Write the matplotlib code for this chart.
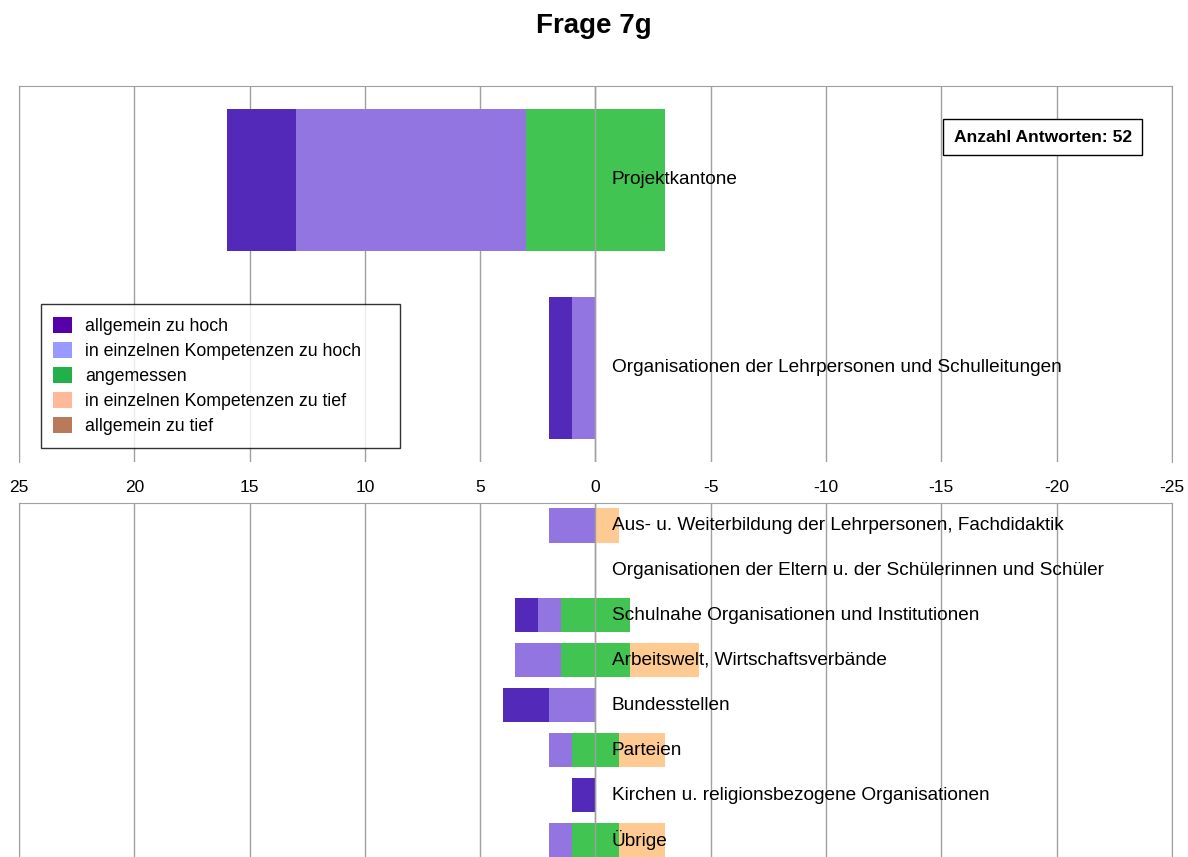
import matplotlib
matplotlib.use('Agg')
import matplotlib.pyplot as plt
from matplotlib.patches import Patch
import numpy as np

plt.rcParams['font.family'] = ['Liberation Sans', 'DejaVu Sans']
plt.rcParams['axes.unicode_minus'] = False

# Kategorien, oben die beiden Hauptgruppen, unten die übrigen
top_labels = ["Projektkantone",
              "Organisationen der Lehrpersonen und Schulleitungen"]
bottom_labels = ["Aus- u. Weiterbildung der Lehrpersonen, Fachdidaktik",
                 "Organisationen der Eltern u. der Schülerinnen und Schüler",
                 "Schulnahe Organisationen und Institutionen",
                 "Arbeitswelt, Wirtschaftsverbände",
                 "Bundesstellen",
                 "Parteien",
                 "Kirchen u. religionsbezogene Organisationen",
                 "Übrige"]

# Anzahl Antworten je Kategorie
top_allg_hoch = [3, 1]
top_einz_hoch = [10, 1]
top_angemessen = [6, 0]
top_einz_tief = [0, 0]
top_allg_tief = [0, 0]

bot_allg_hoch = [0, 0, 1, 0, 2, 0, 1, 0]
bot_einz_hoch = [2, 0, 1, 2, 2, 1, 0, 1]
bot_angemessen = [0, 0, 3, 3, 0, 2, 0, 2]
bot_einz_tief = [1, 0, 0, 3, 0, 2, 0, 2]
bot_allg_tief = [0, 0, 0, 0, 0, 0, 0, 0]

legend_names = ["allgemein zu hoch", "in einzelnen Kompetenzen zu hoch",
                "angemessen", "in einzelnen Kompetenzen zu tief",
                "allgemein zu tief"]
bar_colors = ["#5229B8", "#9275E0", "#42C452", "#FFCA91", "#B87A55"]
legend_colors = ["#5500AA", "#9999FF", "#22B04A", "#FFB998", "#B87A5A"]

total = 52
grid_c = "#A0A0A0"


def draw_panel(ax, labels, ah, eh, am, et, at):
    y = np.arange(len(labels))
    ah, eh, am, et, at = map(np.array, (ah, eh, am, et, at))
    half = am / 2.0
    h = 0.76
    kw = dict(height=h, edgecolor='none', zorder=2)
    ax.barh(y, am, left=-half, color=bar_colors[2], **kw)
    ax.barh(y, eh, left=half, color=bar_colors[1], **kw)
    ax.barh(y, ah, left=half + eh, color=bar_colors[0], **kw)
    ax.barh(y, -et, left=-half, color=bar_colors[3], **kw)
    ax.barh(y, -at, left=-half - et, color=bar_colors[4], **kw)
    for yi, lab in zip(y, labels):
        ax.text(-0.7, yi, lab, ha='left', va='center', fontsize=13.7, zorder=5)
    ax.set_xlim(25, -25)
    ax.set_xticks(np.arange(25, -26, -5))
    ax.grid(axis='x', color=grid_c, linewidth=1, zorder=1)
    ax.axvline(0, color=grid_c, linewidth=1, zorder=4)
    ax.set_yticks([])
    ax.tick_params(axis='x', length=0)
    for s in ax.spines.values():
        s.set_color(grid_c)


fig = plt.figure(figsize=(11.88, 8.57), dpi=100)

ax1 = fig.add_axes([0.016, 0.4609, 0.9705, 0.4388])
draw_panel(ax1, top_labels, top_allg_hoch, top_einz_hoch, top_angemessen,
           top_einz_tief, top_allg_tief)
ax1.set_ylim(1.5, -0.5)
ax1.spines['bottom'].set_visible(False)
ax1.tick_params(axis='x', labelsize=12.5, pad=13)

ax2 = fig.add_axes([0.016, 0.0, 0.9705, 0.4131])
draw_panel(ax2, bottom_labels, bot_allg_hoch, bot_einz_hoch, bot_angemessen,
           bot_einz_tief, bot_allg_tief)
ax2.set_ylim(7.38, -0.5)
ax2.spines['bottom'].set_visible(False)
ax2.tick_params(axis='x', labelbottom=False)

handles = [Patch(facecolor=c, edgecolor='none') for c in legend_colors]
leg = ax1.legend(handles, legend_names, loc='upper left',
                 bbox_to_anchor=(0.0191, 0.0, 0.311, 0.42), mode='expand',
                 fontsize=12.8, frameon=True, fancybox=False, borderpad=0.7,
                 handlelength=1.05, handleheight=1.05, handletextpad=0.75,
                 labelspacing=0.38, borderaxespad=0)
leg.get_frame().set_edgecolor('black')
leg.get_frame().set_linewidth(1)
leg.set_zorder(6)

ax1.text(0.888, 0.864, f"Anzahl Antworten: {total}", transform=ax1.transAxes,
         ha='center', va='center', fontsize=12.6, fontweight='bold', zorder=6,
         bbox=dict(boxstyle='square,pad=0.6', facecolor='white',
                   edgecolor='black', linewidth=1))

fig.suptitle("Frage 7g", y=0.985, fontsize=20, fontweight='bold')

fig.savefig("out.png", dpi=100)
